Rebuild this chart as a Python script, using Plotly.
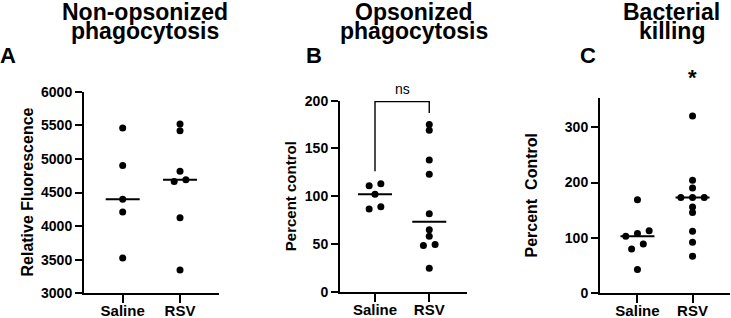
import numpy as np
import plotly.graph_objects as go

# ---------------- data ----------------
groups = ["Saline", "RSV"]

A_saline = [5460, 4900, 4400, 4210, 3525]
A_rsv = [5520, 5420, 4815, 4665, 4690, 4125, 3345]

B_saline = [113, 111, 102, 89, 86.5]
B_rsv = [175, 169, 138, 123, 81.5, 65, 58, 49.5, 48.5, 24.5]

C_saline = [169, 113, 108, 103, 89, 80, 43]
C_rsv = [320, 204, 190, 173, 173, 173, 156, 146, 112, 92, 67]

titles = [("Non-opsonized", "phagocytosis"), ("Opsonized", "phagocytosis"), ("Bacterial", "killing")]
letters = ["A", "B", "C"]
ytitles = ["Relative Fluorescence", "Percent control", "Percent  Control"]

# ---------------- layout geometry (pixels) ----------------
W, H = 731, 318
FONT = "Liberation Sans"
panels = [
    dict(x0=84, x1=219, y0=91.7, y1=293.3, xr=[-0.675, 1.68], yr=[3000, 6000],
         tickvals=[3000, 3500, 4000, 4500, 5000, 5500, 6000], data=[A_saline, A_rsv],
         title_x=145, letter_x=8, ytitle_x=27, ytitle_size=16),
    dict(x0=340, x1=466.7, y0=100.7, y1=291.7, xr=[-0.645, 1.69], yr=[0, 200],
         tickvals=[0, 50, 100, 150, 200], data=[B_saline, B_rsv],
         title_x=414, letter_x=314, ytitle_x=290, ytitle_size=15),
    dict(x0=600, x1=730, y0=98.3, y1=293.3, xr=[-0.68, 1.68], yr=[0, 352],
         tickvals=[0, 100, 200, 300], data=[C_saline, C_rsv],
         title_x=671.5, letter_x=587.5, ytitle_x=531.7, ytitle_size=16),
]


def swarm(vals, px_y, px_x, spacing_px=11.7, thresh_px=5.5):
    vals = np.asarray(vals, float)
    order = np.argsort(vals)
    offs = np.zeros(len(vals))
    clusters, cur = [], [order[0]]
    for a, b in zip(order[:-1], order[1:]):
        if (vals[b] - vals[a]) * px_y < thresh_px:
            cur.append(b)
        else:
            clusters.append(cur)
            cur = [b]
    clusters.append(cur)
    for c in clusters:
        n = len(c)
        for i, idx in enumerate(c):
            offs[idx] = (i - (n - 1) / 2) * spacing_px / px_x
    return offs


def to_px(p, xv, yv):
    px = p["x0"] + (xv - p["xr"][0]) / (p["xr"][1] - p["xr"][0]) * (p["x1"] - p["x0"])
    py = p["y1"] - (yv - p["yr"][0]) / (p["yr"][1] - p["yr"][0]) * (p["y1"] - p["y0"])
    return px, py


fig = go.Figure()
annotations = []
layout_axes = {}

for k, p in enumerate(panels):
    sfx = "" if k == 0 else str(k + 1)
    xa, ya = "x" + sfx, "y" + sfx
    px_x = (p["x1"] - p["x0"]) / (p["xr"][1] - p["xr"][0])
    px_y = (p["y1"] - p["y0"]) / (p["yr"][1] - p["yr"][0])
    for gi, vals in enumerate(p["data"]):
        offs = swarm(vals, px_y, px_x)
        fig.add_trace(go.Scatter(
            x=gi + offs, y=vals, mode="markers", xaxis=xa, yaxis=ya,
            marker=dict(color="black", size=7), showlegend=False, cliponaxis=False,
            hoverinfo="y"))
        med = float(np.median(vals))
        hw = 17 / px_x
        fig.add_trace(go.Scatter(
            x=[gi - hw, gi + hw], y=[med, med], mode="lines", xaxis=xa, yaxis=ya,
            line=dict(color="black", width=2), showlegend=False, hoverinfo="skip"))

    layout_axes["xaxis" + sfx] = dict(
        domain=[p["x0"] / W, p["x1"] / W], range=p["xr"], anchor=ya, automargin=False,
        tickvals=[0, 1], ticktext=groups, showline=True, linewidth=2, linecolor="black",
        ticks="outside", ticklen=8, tickwidth=2, tickcolor="black", showgrid=False,
        zeroline=False, fixedrange=True, ticklabelstandoff=-5,
        tickfont=dict(family=FONT, size=15, color="black", weight="bold"))
    layout_axes["yaxis" + sfx] = dict(
        domain=[1 - p["y1"] / H, 1 - p["y0"] / H], range=p["yr"], anchor=xa, automargin=False,
        tickvals=p["tickvals"], showline=True, linewidth=2, linecolor="black",
        ticks="outside", ticklen=7, tickwidth=2, tickcolor="black", showgrid=False,
        zeroline=False, fixedrange=True,
        tickfont=dict(family=FONT, size=14, color="black", weight="bold"))

    # titles (two lines)
    for line, yc in zip(titles[k], [12.0, 31.0]):
        annotations.append(dict(
            text=line, x=p["title_x"] / W, y=1 - yc / H, xref="paper", yref="paper",
            xanchor="center", yanchor="middle", showarrow=False,
            font=dict(family=FONT, size=23, color="black", weight="bold")))
    annotations.append(dict(
        text=letters[k], x=p["letter_x"] / W, y=1 - 56 / H, xref="paper", yref="paper",
        xanchor="center", yanchor="middle", showarrow=False,
        font=dict(family=FONT, size=22, color="black", weight="bold")))
    annotations.append(dict(
        text=ytitles[k], x=p["ytitle_x"] / W, y=1 - (p["y0"] + p["y1"]) / 2 / H,
        xref="paper", yref="paper", xanchor="center", yanchor="middle", textangle=-90,
        showarrow=False,
        font=dict(family=FONT, size=p["ytitle_size"], color="black", weight="bold")))

# significance bracket for panel B
top = 199
fig.add_trace(go.Scatter(
    x=[0, 0, 1, 1], y=[max(B_saline) + 13, top, top, max(B_rsv) + 12], mode="lines",
    xaxis="x2", yaxis="y2", line=dict(color="black", width=1.4), showlegend=False,
    cliponaxis=False, hoverinfo="skip"))
ns_x, ns_y = to_px(panels[1], 0.5, 212)
annotations.append(dict(
    text="ns", x=ns_x / W, y=1 - ns_y / H, xref="paper", yref="paper",
    xanchor="center", yanchor="middle",
    showarrow=False, font=dict(family=FONT, size=14, color="black")))
st_x, st_y = to_px(panels[2], 1, 390)
annotations.append(dict(
    text="*", x=st_x / W, y=1 - st_y / H, xref="paper", yref="paper",
    xanchor="center", yanchor="middle",
    showarrow=False, font=dict(family=FONT, size=22, color="black", weight="bold")))

fig.update_layout(
    width=W, height=H, margin=dict(l=0, r=0, t=0, b=0, autoexpand=False),
    paper_bgcolor="white", plot_bgcolor="white",
    annotations=annotations, showlegend=False, **layout_axes)

fig.write_html("out.html", config={"displayModeBar": False},
               post_script="document.body.style.margin='0';document.body.style.overflow='hidden';")
